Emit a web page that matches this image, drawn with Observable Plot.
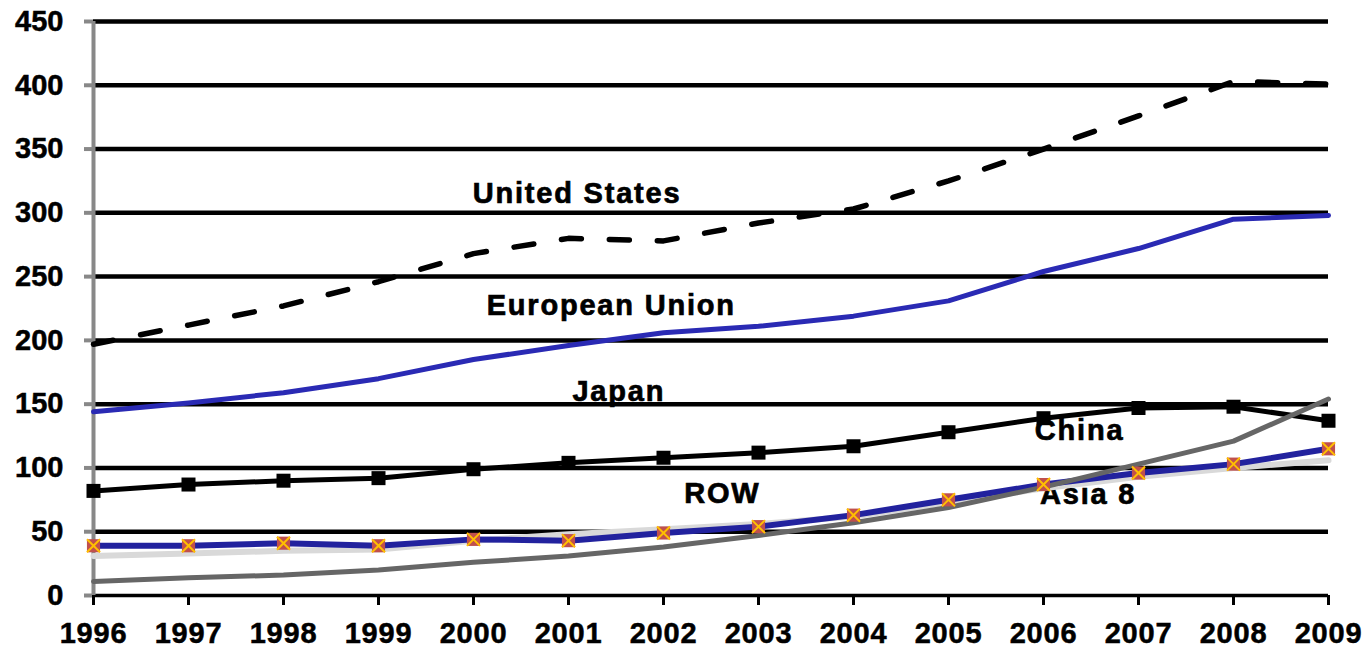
<!DOCTYPE html>
<html>
<head>
<meta charset="utf-8">
<script src="https://cdn.jsdelivr.net/npm/d3@7"></script>
<script src="https://cdn.jsdelivr.net/npm/@observablehq/plot@0.6"></script>
<style>
  html, body { margin: 0; padding: 0; background: #fff; }
  #chart svg { display: block; }
  #chart g[aria-label="text"] text { letter-spacing: 1.8px; stroke: #000; stroke-width: 0.7px; }
  #chart g[aria-label$="tick label"] text { stroke: #000; stroke-width: 0.5px; }
  #chart g[aria-label="x-axis tick label"] text { letter-spacing: 0.8px; }
</style>
</head>
<body>
<div id="chart"></div>
<script>
// Years on the x axis
const years = [1996, 1997, 1998, 1999, 2000, 2001, 2002, 2003, 2004, 2005, 2006, 2007, 2008, 2009];

// Series values by year
const unitedStates   = [197, 212, 227, 246, 268, 280, 278, 292, 303, 325, 350, 376, 403, 401];
const europeanUnion  = [144, 151, 159, 170, 185, 196, 206, 211, 219, 231, 254, 272, 295, 298];
const japan          = [82, 87, 90, 92, 99, 104, 108, 112, 117, 128, 139, 147, 148, 137];
const china          = [11, 14, 16, 20, 26, 31, 38, 47, 57, 69, 85, 103, 121, 154];
const restOfWorld    = [39, 39, 41, 39, 44, 43, 49, 54, 63, 75, 87, 96, 103, 115];
const asia8          = [31, 33, 35, 36, 43, 48, 52, 56, 62, 73, 84, 93, 100, 106];

// Y axis ticks
const yTicks = [0, 50, 100, 150, 200, 250, 300, 350, 400, 450];

// Series name labels placed inside the plot (x in years, y in values)
const labelNames = ["United States", "European Union", "Japan", "China", "Asia 8", "ROW"];
const labelYears = [2001.09, 2001.45, 2001.53, 2006.38, 2006.47, 2002.62];
const labelValues = [315, 227, 160, 129, 79, 80];

const rows = (vals) => years.map((year, i) => ({year, value: vals[i]}));
const labels = labelNames.map((name, i) => ({name, x: labelYears[i], y: labelValues[i]}));

const font = "'Liberation Sans', Arial, Helvetica, sans-serif";

const chart = Plot.plot({
  width: 1366,
  height: 649,
  marginLeft: 93,
  marginRight: 38,
  marginTop: 21,
  marginBottom: 54,
  style: {fontFamily: font, fontSize: "29px", fontWeight: "bold", color: "#000", background: "#fff"},
  x: {type: "linear", domain: [1996, 2009]},
  y: {type: "linear", domain: [0, 450]},
  marks: [
    // series names sit underneath the grid and the lines
    Plot.text(labels, {
      x: "x", y: "y", text: "name",
      fontSize: 29, fontWeight: "bold", fontFamily: font,
      fill: "#000", textAnchor: "middle", lineAnchor: "middle"
    }),
    // horizontal gridlines
    Plot.ruleY(yTicks.filter((d) => d > 0), {stroke: "#000", strokeWidth: 4.5}),
    // baseline
    Plot.ruleY([0], {stroke: "#000", strokeWidth: 3.5}),
    // vertical value axis line
    Plot.ruleX([1996], {y1: 0, y2: 450, stroke: "#888", strokeWidth: 4}),
    Plot.axisY({
      ticks: yTicks, tickFormat: "d", tickSize: 9, tickPadding: 21,
      stroke: "#888", strokeWidth: 4, fill: "#000",
      fontSize: 29, fontWeight: "bold", fontFamily: font, label: null
    }),
    Plot.axisX({
      ticks: years, tickFormat: "d", tickSize: 10, tickPadding: 17,
      stroke: "#000", strokeWidth: 3, fill: "#000",
      fontSize: 29, fontWeight: "bold", fontFamily: font, label: null
    }),
    // Asia 8
    Plot.line(rows(asia8), {x: "year", y: "value", stroke: "#d9d9d9", strokeWidth: 6, strokeLinecap: "round"}),
    // ROW line
    Plot.line(rows(restOfWorld), {x: "year", y: "value", stroke: "#22229e", strokeWidth: 6}),
    // Japan
    Plot.line(rows(japan), {x: "year", y: "value", stroke: "#000", strokeWidth: 5}),
    Plot.dot(rows(japan), {x: "year", y: "value", symbol: "square", r: 7.9, fill: "#000", stroke: null}),
    // China
    Plot.line(rows(china), {x: "year", y: "value", stroke: "#666", strokeWidth: 5, strokeLinecap: "round"}),
    // ROW markers
    Plot.dot(rows(restOfWorld), {x: "year", y: "value", symbol: "square", r: 7.4, fill: "#c0504d", stroke: null}),
    Plot.dot(rows(restOfWorld), {x: "year", y: "value", symbol: "times", r: 6, fill: "none", stroke: "#ffc000", strokeWidth: 2}),
    // European Union
    Plot.line(rows(europeanUnion), {x: "year", y: "value", stroke: "#2a2ab4", strokeWidth: 5, strokeLinecap: "round"}),
    // United States
    Plot.line(rows(unitedStates), {
      x: "year", y: "value", stroke: "#000", strokeWidth: 5.5,
      strokeDasharray: "20,28", strokeLinecap: "round"
    })
  ]
});

document.getElementById("chart").appendChild(chart);
</script>
</body>
</html>
